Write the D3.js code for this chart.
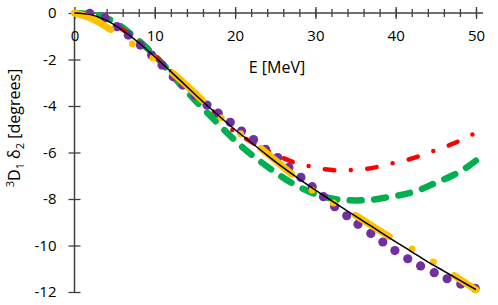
<!DOCTYPE html>
<html>
<head>
<meta charset="utf-8">
<script src="https://cdnjs.cloudflare.com/ajax/libs/d3/7.8.5/d3.min.js"></script>
<style>
    body { margin: 0; background: #fff; }
    #chart text { font-family: "Open Sans", "Noto Sans", sans-serif; fill: #000; }
</style>
</head>
<body>
<div id="chart"></div>
<script>
// values: E [MeV] vs 3D1 phase shift [degrees]
const fitE = [0, 2, 4, 6, 8, 10, 12, 14, 16, 18, 20, 22, 24, 26, 28, 30, 32, 34, 36, 38, 40, 42, 44, 46, 48, 50];
const fitD = [0, -0.07, -0.32, -0.75, -1.28, -1.88, -2.52, -3.17, -3.82, -4.43, -5.02, -5.57, -6.12, -6.65, -7.15, -7.62,
    -8.07, -8.52, -8.96, -9.4, -9.84, -10.27, -10.7, -11.1, -11.5, -11.9];

const dotsE = [1.9, 3.8, 5.3, 6.7, 8.2, 9.6, 10.9, 12.3, 13.5, 15.0, 16.5, 17.9, 19.4, 20.8, 22.3, 23.8, 25.3, 26.7,
    28.2, 29.6, 31.0, 32.4, 33.9, 35.3, 36.9, 38.4, 39.9, 41.5, 43.1, 44.8, 46.4, 48.1, 49.9];
const dotsD = [-0.02, -0.21, -0.59, -0.95, -1.38, -1.81, -2.24, -2.74, -3.1, -3.53, -3.96, -4.31, -4.7, -5.08, -5.44,
    -5.86, -6.22, -6.64, -7.07, -7.47, -7.9, -8.33, -8.72, -9.09, -9.48, -9.85, -10.22, -10.57, -10.88, -11.17, -11.43,
    -11.66, -11.84];

const yellowE = [0, 2, 4.6, 7.3, 9.8, 12.3, 16.3, 18.3, 20.6, 23.1, 27.2, 29.5, 32.2, 34.9, 39.4, 42.1, 44.7, 47.2, 50];
const yellowD = [0, -0.22, -0.73, -1.35, -1.95, -2.6, -3.88, -4.53, -5.17, -5.8, -6.97, -7.6, -8.16, -8.69, -9.65,
    -10.16, -10.71, -11.27, -11.91];

const greenE = [0, 3, 5, 7, 9, 11, 13, 15, 17, 19, 21, 23, 25, 27, 29, 31, 33, 35, 37, 39, 41, 43, 45, 47, 49, 50];
const greenD = [0, -0.1, -0.4, -0.9, -1.5, -2.2, -3.0, -3.75, -4.45, -5.15, -5.8, -6.35, -6.85, -7.3, -7.65, -7.9,
    -8.03, -8.06, -8.03, -7.92, -7.8, -7.6, -7.3, -7.0, -6.6, -6.35];

const redE = [0, 4, 8, 12, 15, 17.1, 18.1, 19.5, 21.2, 22.7, 26.0, 27.2, 29.1, 30.9, 32.5, 34.4, 36.2, 37.9, 39.6,
    41.4, 43.0, 44.8, 46.4, 48.0, 50];
const redD = [0, -0.3, -1.25, -2.5, -3.5, -4.17, -4.47, -4.99, -5.38, -5.68, -6.24, -6.41, -6.58, -6.71, -6.76, -6.75,
    -6.71, -6.61, -6.46, -6.32, -6.15, -5.92, -5.72, -5.49, -5.15];

const xTicks = [0, 10, 20, 30, 40, 50];
const xMinor = d3.range(0, 51, 2);
const yTicks = [0, -2, -4, -6, -8, -10, -12];

class PhaseShiftChart {
    constructor(_parentElement) {
        this.parentElement = _parentElement;
        this.initVis();
    }

    initVis() {
        let vis = this;

        vis.margin = { top: 13, right: 22, bottom: 13, left: 74.5 };
        vis.width = 498 - vis.margin.left - vis.margin.right;
        vis.height = 305 - vis.margin.top - vis.margin.bottom;

        vis.svg = d3.select("#" + vis.parentElement).append("svg")
            .attr("width", 498)
            .attr("height", 305)
            .append("g")
            .attr("transform", "translate(" + vis.margin.left + "," + vis.margin.top + ")");

        vis.x = d3.scaleLinear().domain([0, 50]).range([0, 401.5]);
        vis.y = d3.scaleLinear().domain([-12, 0]).range([279, 0]);

        vis.drawAxes();
        vis.updateVis();
    }

    drawAxes() {
        let vis = this;

        // y axis, ticks crossing the line
        let yAxis = vis.svg.append("g")
            .attr("class", "y-axis")
            .call(d3.axisLeft(vis.y).tickValues(yTicks).tickSize(6).tickFormat(d => d === 0 ? "0" : "-" + Math.abs(d)));
        yAxis.select(".domain").attr("stroke", "#404040").attr("stroke-width", 1.5).attr("d", "M0,0V" + vis.y(-12));
        yAxis.selectAll(".tick line").attr("x1", 6).attr("stroke", "#404040").attr("stroke-width", 1.3);
        yAxis.selectAll(".tick text").attr("x", -18).attr("font-size", 15);

        // minor x ticks
        let xMin = vis.svg.append("g")
            .call(d3.axisBottom(vis.x).tickValues(xMinor).tickSize(4).tickFormat(""));
        xMin.select(".domain").remove();
        xMin.selectAll(".tick line").attr("y1", -4).attr("stroke", "#404040").attr("stroke-width", 1.3);

        // major x ticks, labels under the axis at y = 0
        let xAxis = vis.svg.append("g")
            .attr("class", "x-axis")
            .call(d3.axisBottom(vis.x).tickValues(xTicks).tickSize(6));
        // the axis line overshoots 50 a little, like the original
        xAxis.select(".domain").attr("stroke", "#404040").attr("stroke-width", 1.5).attr("d", "M0,0H" + (vis.x(50) + 7));
        xAxis.selectAll(".tick line").attr("y1", -6).attr("stroke", "#404040").attr("stroke-width", 1.3);
        xAxis.selectAll(".tick text").attr("y", 17).attr("font-size", 15);

        // axis titles
        vis.svg.append("text")
            .attr("x", 277 - vis.margin.left)
            .attr("y", 73 - vis.margin.top)
            .attr("text-anchor", "middle")
            .attr("font-size", 16)
            .text("E [MeV]");

        let yt = vis.svg.append("text")
            .attr("transform", "translate(" + (20 - vis.margin.left) + "," + (128 - vis.margin.top) + ") rotate(-90)")
            .attr("text-anchor", "middle")
            .attr("font-size", 16);
        yt.append("tspan").attr("font-size", 11).attr("dy", -6).text("3");
        yt.append("tspan").attr("dy", 6).text("D");
        yt.append("tspan").attr("font-size", 11).attr("dy", 4).text("1");
        yt.append("tspan").attr("dy", -4).text(" δ");
        yt.append("tspan").attr("font-size", 11).attr("dy", 4).text("2");
        yt.append("tspan").attr("dy", -4).text(" [degrees]");
    }

    updateVis() {
        let vis = this;

        let line = d3.line()
            .x(d => vis.x(d[0]))
            .y(d => vis.y(d[1]))
            .curve(d3.curveMonotoneX);

        // green long-dash curve
        vis.svg.append("path")
            .datum(d3.zip(greenE, greenD))
            .attr("d", line)
            .attr("fill", "none")
            .attr("stroke", "#00B050")
            .attr("stroke-width", 6.5)
            .attr("stroke-linecap", "round")
            .attr("stroke-dasharray", "12,12.5");

        // red dash-dot curve
        vis.svg.append("path")
            .datum(d3.zip(redE, redD))
            .attr("d", line)
            .attr("fill", "none")
            .attr("stroke", "#FF0000")
            .attr("stroke-width", 4.5)
            .attr("stroke-linecap", "round")
            .attr("stroke-dasharray", "9.5,16.5,0,16.5")
            .attr("stroke-dashoffset", 38);

        // purple points
        vis.svg.selectAll(".pt")
            .data(d3.zip(dotsE, dotsD))
            .enter().append("circle")
            .attr("class", "pt")
            .attr("cx", d => vis.x(d[0]))
            .attr("cy", d => vis.y(d[1]))
            .attr("r", 4.6)
            .attr("fill", "#7030A0");

        // yellow long-dash-dot-dot curve
        vis.svg.append("path")
            .datum(d3.zip(yellowE, yellowD))
            .attr("d", line)
            .attr("fill", "none")
            .attr("stroke", "#FFC000")
            .attr("stroke-width", 7)
            .attr("stroke-linecap", "round")
            .attr("stroke-dasharray", "40,26,0,25,0,25");

        // black fit line on top
        vis.svg.append("path")
            .datum(d3.zip(fitE, fitD))
            .attr("d", line)
            .attr("fill", "none")
            .attr("stroke", "#000")
            .attr("stroke-width", 1.5);
    }
}

new PhaseShiftChart("chart");
</script>
</body>
</html>
